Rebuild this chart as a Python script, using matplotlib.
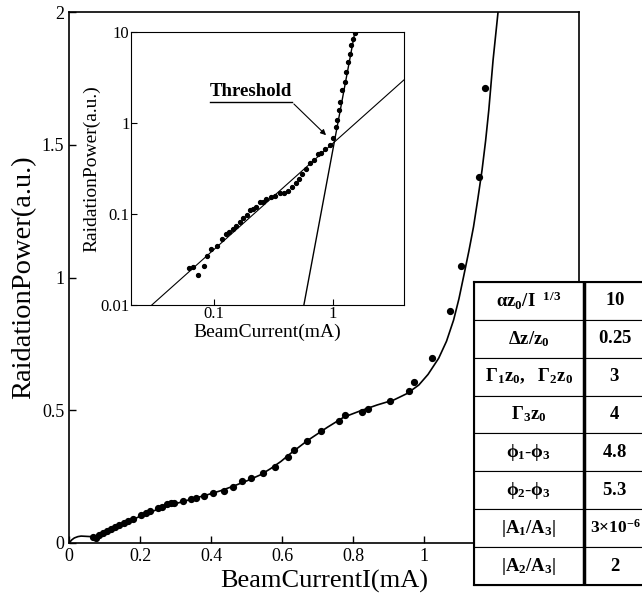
import matplotlib
matplotlib.use("Agg")
import matplotlib.pyplot as plt

plt.rcParams["font.family"] = ["Liberation Serif", "DejaVu Serif"]
plt.rcParams["mathtext.fontset"] = "custom"
plt.rcParams["mathtext.rm"] = "Liberation Serif:bold"
plt.rcParams["mathtext.it"] = "Liberation Serif:bold"
plt.rcParams["mathtext.bf"] = "Liberation Serif:bold"

# main panel: measured points
beam_pts = [0.0665, 0.076, 0.085, 0.095, 0.107, 0.118, 0.129, 0.141, 0.154, 0.165,
            0.179, 0.202, 0.216, 0.228, 0.249, 0.263, 0.275, 0.287, 0.296, 0.322,
            0.343, 0.357, 0.380, 0.406, 0.435, 0.460, 0.488, 0.511, 0.547, 0.579,
            0.616, 0.633, 0.669, 0.708, 0.759, 0.776, 0.825, 0.842, 0.904,
            0.956, 0.970, 1.021, 1.073, 1.104, 1.154, 1.171]
power_pts = [0.021, 0.020, 0.030, 0.039, 0.046, 0.052, 0.059, 0.068, 0.074, 0.082,
             0.092, 0.105, 0.112, 0.119, 0.131, 0.137, 0.146, 0.150, 0.150, 0.159,
             0.166, 0.171, 0.178, 0.190, 0.197, 0.212, 0.235, 0.244, 0.265, 0.287,
             0.325, 0.350, 0.385, 0.421, 0.461, 0.481, 0.495, 0.506, 0.536,
             0.573, 0.606, 0.698, 0.875, 1.045, 1.380, 1.715]

# main panel: theory curve
beam_fit = [0.0, 0.008, 0.015, 0.025, 0.034, 0.048, 0.062, 0.075, 0.090, 0.127, 0.165,
            0.202, 0.240, 0.277, 0.315, 0.352, 0.390, 0.427, 0.464, 0.502, 0.539,
            0.567, 0.596, 0.624, 0.670, 0.727, 0.773, 0.820, 0.867, 0.914, 0.951,
            0.984, 1.010, 1.040, 1.062, 1.082, 1.097, 1.110, 1.125, 1.138, 1.150,
            1.162, 1.172, 1.181, 1.193, 1.207]
power_fit = [0.0, 0.012, 0.019, 0.024, 0.026, 0.025, 0.024, 0.027, 0.033, 0.055, 0.079,
             0.102, 0.122, 0.139, 0.154, 0.168, 0.182, 0.197, 0.215, 0.235, 0.257,
             0.280, 0.307, 0.338, 0.385, 0.436, 0.474, 0.498, 0.520, 0.539, 0.563,
             0.595, 0.635, 0.696, 0.760, 0.840, 0.920, 1.003, 1.100, 1.191, 1.295,
             1.405, 1.515, 1.631, 1.819, 2.0]

# inset (log-log) points
inset_beam = [0.0610, 0.0663, 0.0730, 0.0824, 0.0879, 0.0944, 0.1066, 0.1174, 0.126,
              0.1344, 0.145, 0.153, 0.165, 0.174, 0.188, 0.200, 0.211, 0.225, 0.243,
              0.259, 0.276, 0.304, 0.324, 0.357, 0.386, 0.420, 0.456, 0.493, 0.519,
              0.553, 0.590, 0.637, 0.689, 0.748, 0.798, 0.851, 0.938, 1.0, 1.052,
              1.087, 1.123, 1.152, 1.197, 1.253, 1.294, 1.336, 1.380, 1.425, 1.471,
              1.520]
inset_power = [0.0252, 0.0259, 0.0211, 0.0270, 0.0348, 0.0408, 0.0444, 0.0534, 0.0596,
               0.0627, 0.0688, 0.0736, 0.0821, 0.0893, 0.0972, 0.110, 0.114, 0.120,
               0.134, 0.137, 0.145, 0.152, 0.158, 0.168, 0.172, 0.180, 0.196, 0.220,
               0.241, 0.276, 0.311, 0.359, 0.397, 0.454, 0.473, 0.524, 0.570, 0.691,
               0.905, 1.07, 1.38, 1.70, 2.29, 2.83, 3.64, 4.69, 5.78, 7.14, 8.45, 9.75]

# straight-line fits in the inset (end points)
low_fit_x = [0.030, 3.95]
low_fit_y = [0.01, 2.97]
high_fit_x = [0.57, 1.53]
high_fit_y = [0.01, 10.0]

# parameter table
param_names = [r"$\alpha z_0/I^{\ \ 1/3}$", r"$\Delta z/z_0$",
               r"$\Gamma_1 z_0,\ \ \Gamma_2 z_0$", r"$\Gamma_3 z_0$",
               r"$\phi_1$-$\phi_3$", r"$\phi_2$-$\phi_3$",
               r"$|A_1/A_3|$", r"$|A_2/A_3|$"]
param_values = [r"$10$", r"$0.25$", r"$3$", r"$4$", r"$4.8$", r"$5.3$",
                r"$3{\times}10^{-6}$", r"$2$"]

fig = plt.figure(figsize=(6.42, 6.05), dpi=100)

# ---- main axes ----
ax = fig.add_axes([0.1075, 0.1025, 0.7945, 0.8775])
ax.plot(beam_fit, power_fit, color="black", lw=1.2)
ax.plot(beam_pts, power_pts, "o", color="black", ms=4.2)
ax.set_xlim(0, 1.435)
ax.set_ylim(0, 2)
ax.set_xticks([0, 0.2, 0.4, 0.6, 0.8, 1.0, 1.2])
ax.set_xticklabels(["0", "0.2", "0.4", "0.6", "0.8", "1", "1.2"])
ax.set_yticks([0, 0.5, 1, 1.5, 2])
ax.set_yticklabels(["0", "0.5", "1", "1.5", "2"])
ax.tick_params(direction="in", length=5, labelsize=13, width=1)
ax.set_xlabel("BeamCurrentI(mA)", fontsize=19, labelpad=4)
ax.set_ylabel("RaidationPower(a.u.)", fontsize=20.5, labelpad=4)
for s in ax.spines.values():
    s.set_linewidth(1.2)

# ---- inset ----
ins = fig.add_axes([0.204, 0.496, 0.425, 0.451])
ins.set_xscale("log")
ins.set_yscale("log")
ins.plot(low_fit_x, low_fit_y, color="black", lw=0.8)
ins.plot(high_fit_x, high_fit_y, color="black", lw=1.0)
ins.plot(inset_beam, inset_power, "o", color="black", ms=2.8)
ins.set_xlim(0.02, 3.95)
ins.set_ylim(0.01, 10)
ins.minorticks_off()
ins.set_xticks([0.1, 1])
ins.set_xticklabels(["0.1", "1"])
ins.set_yticks([0.01, 0.1, 1, 10])
ins.set_yticklabels(["0.01", "0.1", "1", "10"])
ins.tick_params(direction="in", length=4, labelsize=12, pad=1)
ins.set_xlabel("BeamCurrent(mA)", fontsize=14, labelpad=1)
ins.set_ylabel("RaidationPower(a.u.)", fontsize=14, labelpad=0)
ins.text(0.0925, 2.2, "Threshold", fontsize=13.5, fontweight="bold",
         ha="left", va="center")
ins.plot([0.0925, 0.452], [1.70, 1.70], color="black", lw=1.0)
ins.annotate("", xy=(0.91, 0.70), xytext=(0.452, 1.70),
             arrowprops=dict(arrowstyle="-|>", color="black", lw=0.8,
                             mutation_scale=8))

# ---- table ----
tax = fig.add_axes([0.738, 0.033, 0.268, 0.501])
tax.set_zorder(5)
tax.set_facecolor("white")
tax.set_xticks([])
tax.set_yticks([])
tax.set_xlim(0, 1)
tax.set_ylim(0, 1)
for s in tax.spines.values():
    s.set_linewidth(1.5)
rows = [[n, v] for n, v in zip(param_names, param_values)]
tbl = tax.table(cellText=rows, cellLoc="center", bbox=[0, 0, 1, 1],
                colWidths=[110 / 172, 62 / 172])
tbl.auto_set_font_size(False)
tbl.set_fontsize(13.5)
for cell in tbl.get_celld().values():
    cell.set_linewidth(0.8)
tbl[6, 1].get_text().set_fontsize(12.5)
tax.axvline(110 / 172, color="black", lw=2.5)

fig.savefig("out.png", dpi=100)
